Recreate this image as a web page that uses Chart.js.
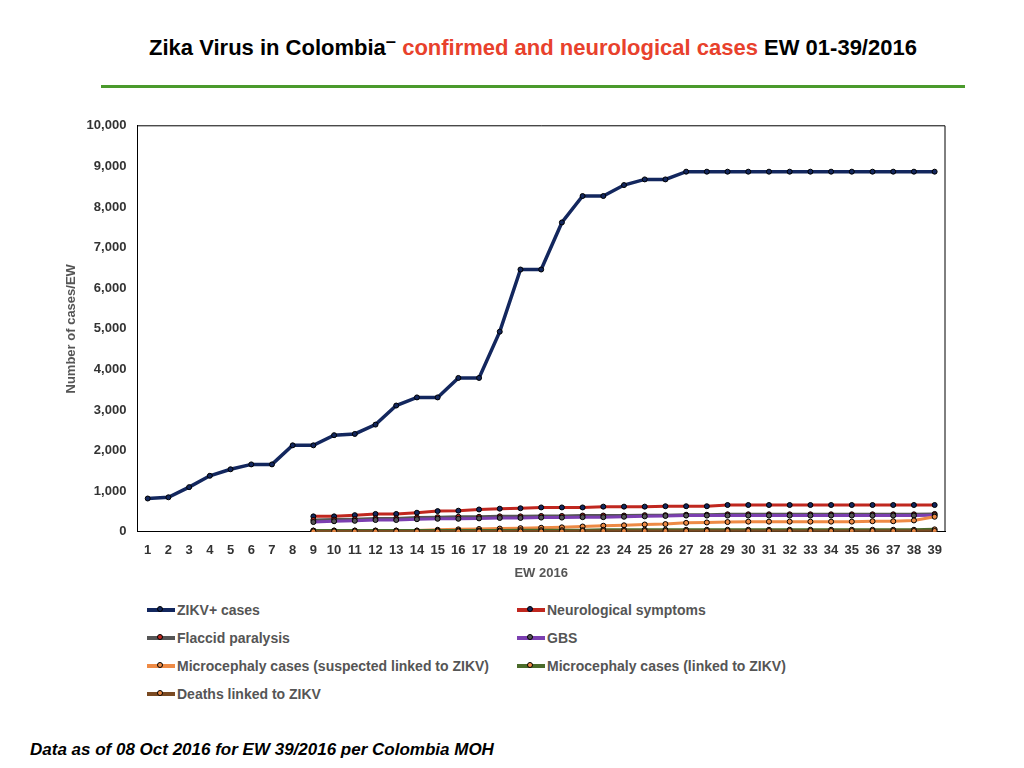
<!DOCTYPE html>
<html><head><meta charset="utf-8">
<script src="https://cdn.jsdelivr.net/npm/chart.js@4"></script>
<style>
body{margin:0;width:1024px;height:768px;background:#fff;font-family:"Liberation Sans",Arial,sans-serif;position:relative;overflow:hidden}
#title{position:absolute;top:30px;left:0;width:1066px;text-align:center;font-size:22px;font-weight:bold;color:#000}
#title span{color:#e8412c}
#rule{position:absolute;top:85px;left:101px;width:864px;height:3px;background:#4a9a2c}
#wrap{position:absolute;left:60px;top:115px;width:900px;height:470px}
#legend{position:absolute;left:147px;top:602px;display:grid;grid-template-columns:370px 300px;row-gap:12px;font-size:14px;font-weight:bold;color:#555}
.it{display:flex;align-items:center}
.sw{width:28px;height:4px;position:relative;margin-right:2px}
.sw i{position:absolute;left:10px;top:-2px;width:6px;height:6px;border-radius:50%;border:1px solid #000;box-sizing:border-box}
#foot{position:absolute;left:30px;top:740px;font-size:17px;font-weight:bold;font-style:italic}
</style></head><body>
<div id="title">Zika Virus in Colombia<sup>–</sup>  <span>confirmed and neurological cases</span> EW 01-39/2016</div>
<div id="rule"></div>
<div id="wrap"><canvas id="c" width="900" height="470"></canvas></div>
<div id="legend"></div>
<div id="foot">Data as of 08 Oct 2016 for EW 39/2016 per Colombia MOH</div>
<script>
var weeks = [];
for (var w = 1; w <= 39; w++) weeks.push(String(w));
var e = null;
var zikv = [820,850,1100,1380,1540,1660,1660,2130,2130,2380,2410,2640,3110,3310,3310,3790,3790,4930,6460,6460,7620,8270,8270,8540,8680,8680,8870,8870,8870,8870,8870,8870,8870,8870,8870,8870,8870,8870,8870];
var neuro = [e,e,e,e,e,e,e,e,380,380,410,440,440,470,510,520,550,570,580,600,600,600,620,620,620,630,630,630,660,660,660,660,660,660,660,660,660,660,660];
var flaccid = [e,e,e,e,e,e,e,e,290,300,310,330,330,350,360,370,370,380,380,390,390,400,400,400,410,410,420,420,430,430,430,430,430,430,430,430,430,430,440];
var gbs = [e,e,e,e,e,e,e,e,240,260,270,290,290,310,320,320,330,340,340,350,350,360,360,370,380,390,400,400,400,400,400,400,400,400,400,400,400,400,410];
var microSusp = [e,e,e,e,e,e,e,e,30,30,30,30,30,30,50,60,70,80,90,100,110,130,150,160,180,190,220,230,240,250,250,250,250,250,250,260,260,280,370];
var microLinked = [e,e,e,e,e,e,e,e,30,30,30,30,30,30,30,30,30,30,40,40,40,40,50,50,50,50,50,50,50,50,50,50,50,50,50,50,50,50,60];
var deaths = [e,e,e,e,e,e,e,e,10,10,10,10,10,10,10,10,10,10,10,10,10,20,20,20,20,20,20,20,20,20,20,20,20,20,20,20,20,20,20];

var series = [
  ['ZIKV+ cases', zikv, '#13275e', '#13275e'],
  ['Neurological symptoms', neuro, '#c0271f', '#13275e'],
  ['Flaccid paralysis', flaccid, '#555555', '#c0271f'],
  ['GBS', gbs, '#7b3fb0', '#555555'],
  ['Microcephaly cases (suspected linked to ZIKV)', microSusp, '#ee8a45', '#ee8a45'],
  ['Microcephaly cases (linked to ZIKV)', microLinked, '#4a6b2a', '#ee8a45'],
  ['Deaths linked to ZIKV', deaths, '#7a4a22', '#ee8a45']
];

var lg = document.getElementById('legend');
series.forEach(function (s) {
  lg.innerHTML += '<div class="it"><div class="sw" style="background:' + s[2] + '"><i style="background:' + s[3] + '"></i></div>' + s[0] + '</div>';
});

new Chart(document.getElementById('c'), {
  type: 'line',
  data: {
    labels: weeks,
    datasets: series.map(function (s, i) {
      return {label: s[0], data: s[1], borderColor: s[2], backgroundColor: s[3],
        borderWidth: i == 0 ? 3.5 : 3, pointRadius: 2.5, pointBorderColor: '#000',
        pointBorderWidth: 1, tension: 0, order: i == 0 ? 0 : 7 - i};
    })
  },
  options: {
    responsive: false, animation: false, maintainAspectRatio: false,
    plugins: {legend: {display: false}},
    layout: {padding: {right: 15}},
    scales: {
      x: {offset: true, grid: {display: false}, border: {color: '#000'},
        ticks: {color: '#333', font: {size: 13, weight: 'bold'}, autoSkip: false, maxRotation: 0},
        title: {display: true, text: 'EW 2016', color: '#555', font: {size: 13, weight: 'bold'}}},
      y: {min: 0, max: 10000, grid: {display: false}, border: {color: '#000'},
        ticks: {stepSize: 1000, color: '#333', font: {size: 13, weight: 'bold'}},
        title: {display: true, text: 'Number of cases/EW', color: '#555', font: {size: 13, weight: 'bold'}}}
    }
  },
  plugins: [{id: 'box', afterDraw: function (ch) {
    var a = ch.chartArea, c = ch.ctx;
    c.save(); c.strokeStyle = '#000'; c.lineWidth = 1;
    c.beginPath(); c.moveTo(a.left, a.top); c.lineTo(a.right, a.top); c.lineTo(a.right, a.bottom); c.stroke();
    c.restore();
  }}]
});
</script>
</body></html>
